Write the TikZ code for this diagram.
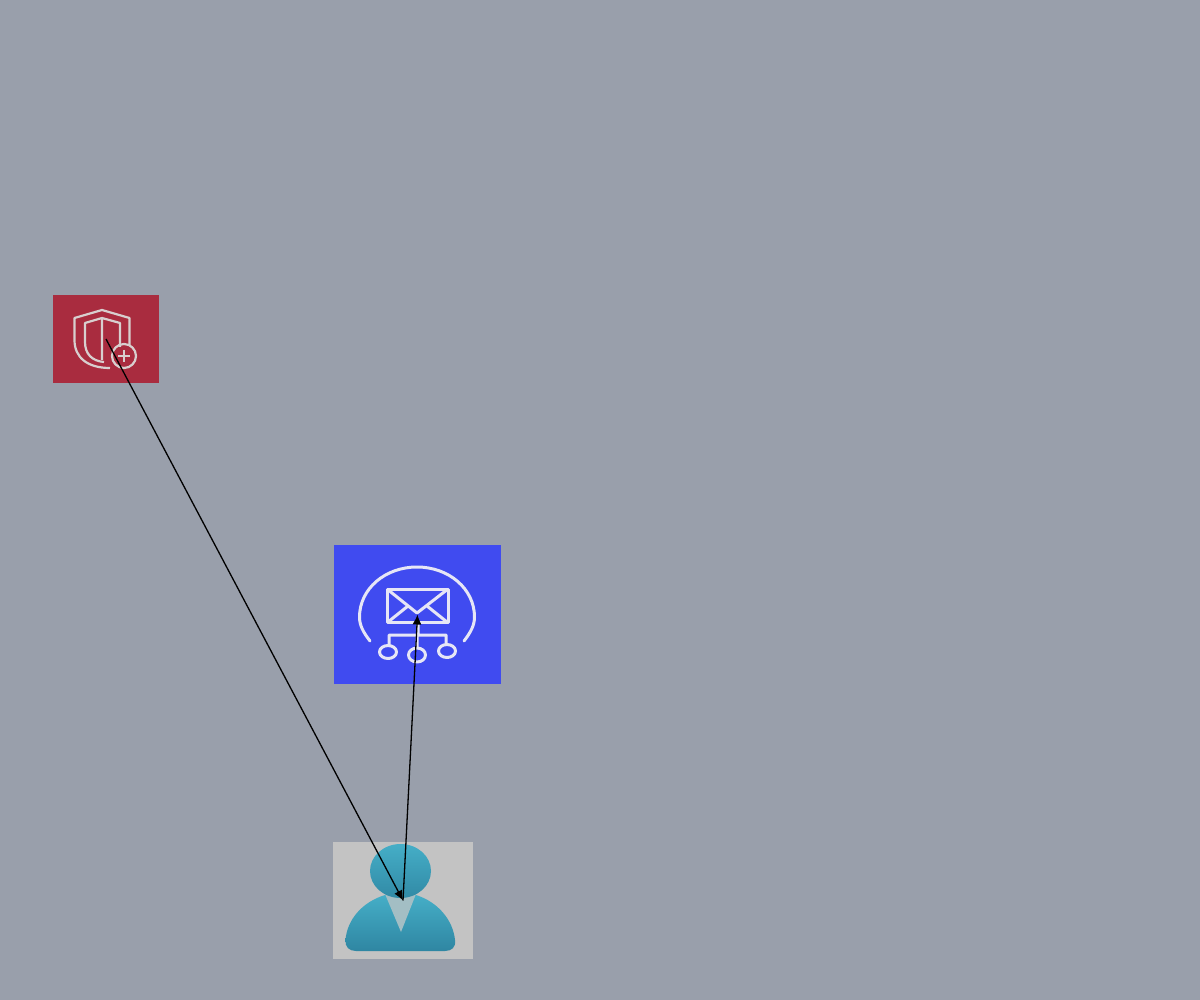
\documentclass[tikz,border=0pt]{standalone}
\usepackage{tikz}
\usetikzlibrary{arrows.meta}

\definecolor{bgcol}{HTML}{999FAB}
\definecolor{wafcol}{HTML}{A92C3F}
\definecolor{sescol}{HTML}{404BF0}
\definecolor{usercol}{HTML}{C3C3C3}
\definecolor{wafline}{HTML}{D8CFCF}
\definecolor{sesline}{HTML}{E6E6F6}
\definecolor{usertop}{HTML}{45AEC7}
\definecolor{userbot}{HTML}{2F86A2}

\begin{document}
\begin{tikzpicture}[x=1pt,y=-1pt,
        iconbox/.style={inner sep=0pt,outer sep=0pt,anchor=center},
        wafstroke/.style={draw=wafline,line width=2.2pt,line join=round},
        sesstroke/.style={draw=sesline,line width=3pt,line join=round},
        flow/.style={draw=black,line width=1.3pt,-{Latex[length=10pt,width=9pt]}}
    ]
        \useasboundingbox (0,0) rectangle (1200,1000);
        \fill[bgcol] (0,0) rectangle (1200,1000);

        \node [iconbox,fill=wafcol,minimum width=106pt,minimum height=88pt] (wafbox) at (106,339) {};
        \node [iconbox,fill=sescol,minimum width=167pt,minimum height=139pt] (sesbox) at (417.5,614.5) {};
        \node [iconbox,fill=usercol,minimum width=140pt,minimum height=117pt] (userbox) at (403,900.5) {};

        % shield
        \draw[wafstroke]
            (110,368) .. controls (88,368) and (74.5,358) .. (74.5,340)
            -- ++(0,-22) -- (102,310) -- (129.5,318) -- (129.5,345)
            (104,362) .. controls (92,361) and (85,354) .. (85,342)
            -- ++(0,-19) -- (102,318) -- (120,323) -- (120,347)
            (102,318) -- (102,360);
        \draw[wafstroke] (124,356) circle [radius=12];
        \draw[wafstroke]
            (118,356) -- ++(12,0)
            (124,350) -- ++(0,12);

        % mail
        \draw[sesstroke,line cap=round]
            (370,641) .. controls (363,632) and (359.5,625) .. (359.5,617)
            .. controls (359.5,589) and (385,567) .. (417,567)
            .. controls (449,567) and (474.5,589) .. (474.5,617)
            .. controls (474.5,625) and (471,632) .. (464,641);
        \draw[sesstroke] (387,589) rectangle (448,622);
        \draw[sesstroke]
            (387,589) -- (417,613) -- (448,589)
            (388,622) -- (408,606)
            (447,622) -- (427,606)
            (418,622) -- ++(0,13)
            (389,645) -- ++(0,-10) -- ++(57,0) -- ++(0,9)
            (417,635) -- ++(0,13);
        \draw[sesstroke] (388,652) ellipse [x radius=8.5,y radius=6.5];
        \draw[sesstroke] (417,655) ellipse [x radius=8.5,y radius=7];
        \draw[sesstroke] (447,651) ellipse [x radius=8.5,y radius=6.5];

        % user
        \shade[top color=usertop,bottom color=userbot]
            (385,895) .. controls (362,902) and (347,920) .. (345.5,940)
            .. controls (345,947) and (349,951) .. (356,951)
            -- (445,951)
            .. controls (452,951) and (456,947) .. (455,940)
            .. controls (453,920) and (438,902) .. (416,895)
            -- cycle;
        \fill[usercol!75!usertop] (385,894) -- (416,894) -- (401,932) -- cycle;
        \shade[top color=usertop,bottom color=userbot!90!usertop]
            (400.5,871) ellipse [x radius=30.5,y radius=27];

        \draw[flow] (wafbox.center) -- (userbox.center);
        \draw[flow] (userbox.center) -- (sesbox.center);
    \end{tikzpicture}
\end{document}
